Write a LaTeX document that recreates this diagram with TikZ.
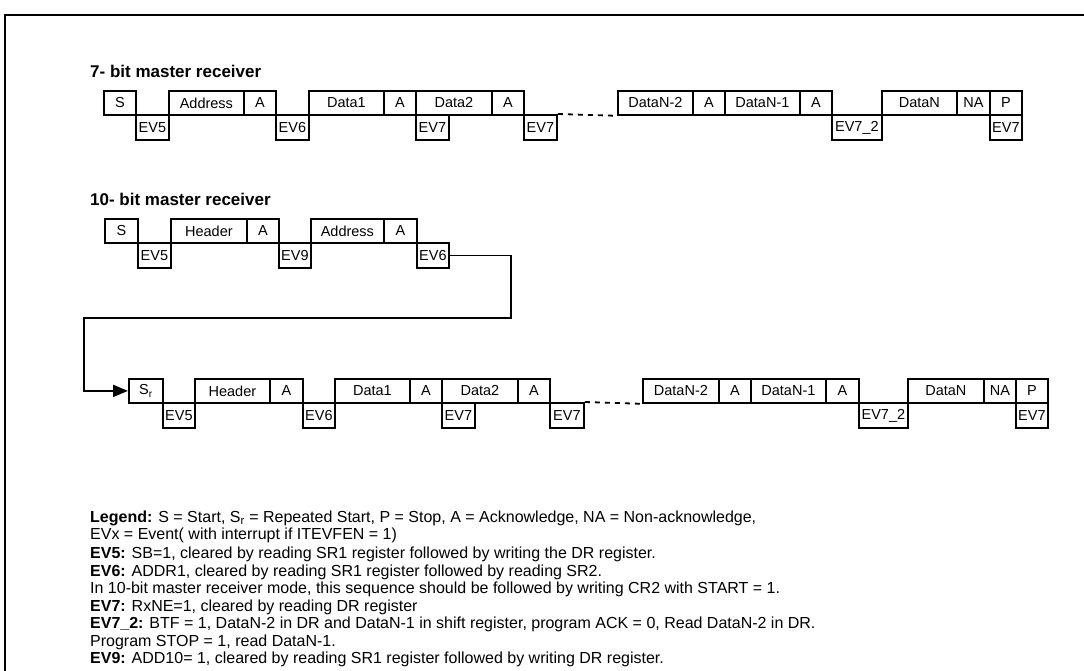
\documentclass[tikz,border=0pt]{standalone}
\usepackage{fontspec}
\setmainfont{Liberation Sans}
\usetikzlibrary{arrows.meta,positioning}
\newcommand\fieldfont{\fontsize{14.5}{16}\selectfont}
\newcommand\titlefont{\fontsize{17}{19}\selectfont\bfseries}
\newcommand\legfont{\fontsize{16}{18}\selectfont}
\tikzset{
  field/.style={draw, line width=1.8pt, anchor=north west, minimum height=24, inner sep=0pt, font=\fieldfont},
  event/.style={field, minimum height=25},
  rowtitle/.style={anchor=base west, inner sep=0pt, font=\titlefont},
  legendline/.style={anchor=base west, inner sep=0pt, font=\legfont},
  link/.style={line width=1.8pt},
  gapline/.style={line width=1.8pt, dash pattern=on 5pt off 5pt},
  frameline/.style={line width=2.2pt}
}

\begin{document}
\begin{tikzpicture}[x=1pt,y=-1pt]
  \useasboundingbox (0,0) rectangle (1084,671);
  \draw[frameline] (5,672) -- (5,15) -- (1085,15);

  % 7-bit master receiver
  \node[rowtitle] (ttlA) at (90,78) {7- bit master receiver};
  \foreach \nm/\lb/\xa/\xb in {s/S/103/135, adr/Address/168/243, ak1/A/243/275, d1/Data1/308/383,
      ak2/A/383/415, d2/Data2/415/491, ak3/A/491/523, dn2/DataN-2/617/692, ak4/A/692/724,
      dn1/DataN-1/724/799, ak5/A/799/831, dn/DataN/881/956, na/NA/956/989, p/P/989/1021}
    \node[field, minimum width=\xb-\xa] (a\nm) at (\xa,90) {\lb};
  \foreach \nm/\lb/\xa/\xb in {e5/EV5/135/168, e6/EV6/275/308, e7a/EV7/415/448,
      e7b/EV7/523/556, e72/EV7\_2/831/881, e7c/EV7/989/1021}
    \node[event, minimum width=\xb-\xa] (a\nm) at (\xa,114) {\lb};
  \draw[gapline] (ae7b.north east) -- (adn2.south west);

  % 10-bit master receiver
  \node[rowtitle] (ttlB) at (90,206) {10- bit master receiver};
  \foreach \nm/\lb/\xa/\xb in {s/S/104/137, hdr/Header/170/246, ak1/A/246/278,
      adr/Address/310/383, ak2/A/383/416}
    \node[field, minimum width=\xb-\xa] (b\nm) at (\xa,218) {\lb};
  \foreach \nm/\lb/\xa/\xb in {e5/EV5/137/170, e9/EV9/278/310, e6/EV6/416/448}
    \node[event, minimum width=\xb-\xa] (b\nm) at (\xa,242) {\lb};

  % repeated start part
  \foreach \nm/\lb/\xa/\xb in {sr/S\textsubscript{r}/128/162, hdr/Header/194/269, ak1/A/269/302,
      d1/Data1/334/409, ak2/A/409/441, d2/Data2/441/517, ak3/A/517/549, dn2/DataN-2/642/718,
      ak4/A/718/750, dn1/DataN-1/750/825, ak5/A/825/858, dn/DataN/907/983, na/NA/983/1015,
      p/P/1015/1047}
    \node[field, minimum width=\xb-\xa] (c\nm) at (\xa,378) {\lb};
  \foreach \nm/\lb/\xa/\xb in {e5/EV5/162/194, e6/EV6/302/334, e7a/EV7/441/474,
      e7b/EV7/549/583, e72/EV7\_2/858/907, e7c/EV7/1015/1047}
    \node[event, minimum width=\xb-\xa] (c\nm) at (\xa,402) {\lb};
  \draw[gapline] (ce7b.north east) -- (cdn2.south west);

  \coordinate (turnA) at (511,318);
  \coordinate (turnB) at (84,318);
  \draw[link, -{Triangle[length=15pt,width=12pt]}] (be6.east) -| (turnA) -- (turnB) |- (csr.west);

  % legend
  \node[legendline] (lg1) at (90,522) {\textbf{Legend:} S = Start, S\textsubscript{r} = Repeated Start, P = Stop, A = Acknowledge, NA = Non-acknowledge,};
  \node[legendline] (lg2) at (90,539) {EVx = Event( with interrupt if ITEVFEN = 1)};
  \node[legendline] (lg3) at (90,558) {\textbf{EV5:} SB=1, cleared by reading SR1 register followed by writing the DR register.};
  \node[legendline] (lg4) at (90,576) {\textbf{EV6:} ADDR1, cleared by reading SR1 register followed by reading SR2.};
  \node[legendline] (lg5) at (90,593) {In 10-bit master receiver mode, this sequence should be followed by writing CR2 with START = 1.};
  \node[legendline] (lg6) at (90,611) {\textbf{EV7:} RxNE=1, cleared by reading DR register};
  \node[legendline] (lg7) at (90,628) {\textbf{EV7\_2:} BTF = 1, DataN-2 in DR and DataN-1 in shift register, program ACK = 0, Read DataN-2 in DR.};
  \node[legendline] (lg8) at (90,646) {Program STOP = 1, read DataN-1.};
  \node[legendline] (lg9) at (90,663) {\textbf{EV9:} ADD10= 1, cleared by reading SR1 register followed by writing DR register.};
\end{tikzpicture}
\end{document}
